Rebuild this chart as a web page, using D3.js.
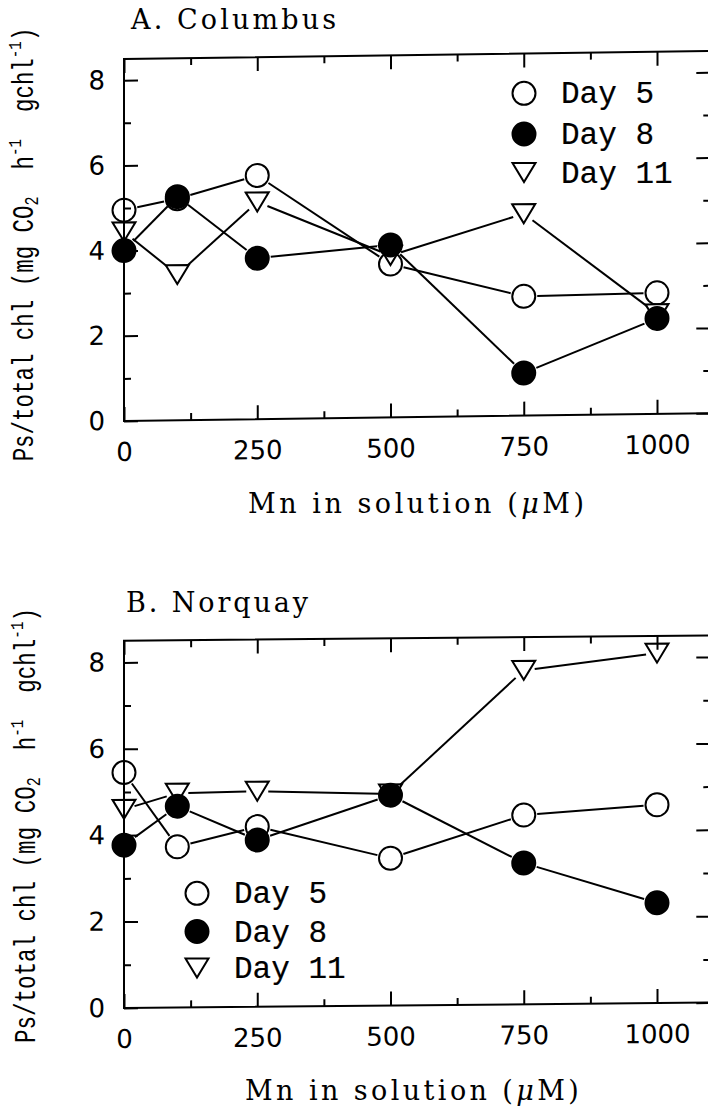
<!DOCTYPE html>
<html>
<head>
<meta charset="utf-8">
<script src="https://cdn.jsdelivr.net/npm/d3@7"></script>
<style>
  html, body { margin: 0; padding: 0; background: #fff; }
  svg { display: block; }
</style>
</head>
<body>
<svg id="chart" width="708" height="1113"></svg>
<script>
// Mn concentration in the nutrient solution (µM)
const manganese = [0, 100, 250, 500, 750, 1000];

// Ps / total chl, cv. Columbus
const columbusDay5  = [4.95, 5.2, 5.72, 3.6, 2.8, 2.84];
const columbusDay8  = [4.0, 5.25, 3.78, 4.05, 1.0, 2.24];
const columbusDay11 = [4.44, 3.42, 5.1, 3.8, 4.74, 2.35];

// Ps / total chl, cv. Norquay
const norquayDay5  = [5.45, 3.72, 4.17, 3.41, 4.38, 4.59];
const norquayDay8  = [3.77, 4.66, 3.86, 4.87, 3.27, 2.32];
const norquayDay11 = [4.6, 4.96, 4.99, 4.9, 7.73, 8.1];

const seriesNames = ["Day 5", "Day 8", "Day 11"];
const xMajorTicks = [0, 250, 500, 750, 1000];
const xMinorTicks = [125, 375, 625, 875];
const yMajorTicks = [0, 2, 4, 6, 8];
const yMinorTicks = [1, 3, 5, 7];

const svg = d3.select("#chart");

// marker styles: open circle, filled circle, open down-triangle
const markerKinds = ["open", "filled", "triangle"];
const R = 11.5;
const TRI = "M-11.5,-9.5L11.5,-9.5L0,9.5Z";

function drawMarker(sel, kind, cx, cy) {
  if (kind === "triangle") {
    sel.append("path").attr("d", TRI)
      .attr("transform", `translate(${cx},${cy})`)
      .attr("fill", "#fff").attr("stroke", "#000").attr("stroke-width", 2);
  } else {
    sel.append("circle").attr("cx", cx).attr("cy", cy).attr("r", R)
      .attr("fill", kind === "filled" ? "#000" : "#fff")
      .attr("stroke", "#000").attr("stroke-width", 2);
  }
}

function fitSpacing(textSel, target) {
  const nat = textSel.node().getComputedTextLength();
  const n = textSel.text().length;
  textSel.attr("letter-spacing", ((target - nat) / (n - 1)).toFixed(2));
}

const panels = [
  {
    title: "A. Columbus", series: [columbusDay5, columbusDay8, columbusDay11],
    bottom: 421, unit: 42.6, skew: -0.77,
    titleX: 131, titleY: 29, titleW: 205,
    xTitleX: 248, xTitleY: 513, xTitleW: 336,
    yLabelX: 33, yLabelCY: 244.5, yLabelLen: 434,
    legendX: 524, legendRows: [93.3, 134, 172.5]
  },
  {
    title: "B. Norquay", series: [norquayDay5, norquayDay8, norquayDay11],
    bottom: 1008, unit: 43.2, skew: -0.53,
    titleX: 126, titleY: 612, titleW: 182,
    xTitleX: 245, xTitleY: 1100, xTitleW: 334,
    yLabelX: 35, yLabelCY: 825.5, yLabelLen: 435,
    legendX: 197, legendRows: [893.3, 931.5, 968]
  }
];

function styleAxis(sel, fontSize) {
  sel.select(".domain").remove();
  sel.selectAll(".tick line").attr("stroke", "#000").attr("stroke-width", 2);
  sel.attr("font-family", "DejaVu Sans").attr("font-size", fontSize);
  sel.selectAll(".tick text").attr("fill", "#000");
}

function drawPanel(p) {
  const left = 124, xUnit = 0.533;
  const x = d3.scaleLinear().domain([0, 1100]).range([left, left + 1100 * xUnit]);
  const y = d3.scaleLinear().domain([0, 8.5]).range([p.bottom, p.bottom - 8.5 * p.unit]);
  const [x0, x1] = x.range();
  const [y0, y1] = y.range();

  const g = svg.append("g")
    .attr("transform", `translate(${left},${p.bottom}) skewY(${p.skew}) translate(${-left},${-p.bottom})`);

  // connecting lines (trimmed short of each marker)
  const lines = g.append("g").attr("stroke", "#000").attr("stroke-width", 2).attr("fill", "none");
  p.series.forEach((vals, si) => {
    const gap = markerKinds[si] === "triangle" ? 11 : R + 2;
    for (let i = 0; i < vals.length - 1; i++) {
      const ax = x(manganese[i]), ay = y(vals[i]);
      const bx = x(manganese[i + 1]), by = y(vals[i + 1]);
      const len = Math.hypot(bx - ax, by - ay);
      const ux = (bx - ax) / len, uy = (by - ay) / len;
      lines.append("line")
        .attr("x1", ax + ux * gap).attr("y1", ay + uy * gap)
        .attr("x2", bx - ux * gap).attr("y2", by - uy * gap);
    }
  });

  // markers: Day 5, then Day 11, then Day 8 on top
  const marks = g.append("g");
  [0, 2, 1].forEach(si => {
    p.series[si].forEach((v, i) => drawMarker(marks, markerKinds[si], x(manganese[i]), y(v)));
  });

  // frame
  g.append("rect").attr("x", x0).attr("y", y1).attr("width", x1 - x0).attr("height", y0 - y1)
    .attr("fill", "none").attr("stroke", "#000").attr("stroke-width", 2);

  // bottom axis with labels
  g.append("g").attr("transform", `translate(0,${y0})`)
    .call(d3.axisBottom(x).tickValues(xMajorTicks).tickSize(-14).tickPadding(21.5).tickFormat(d3.format("d")))
    .call(s => styleAxis(s, 26));
  g.append("g").attr("transform", `translate(0,${y0})`)
    .call(d3.axisBottom(x).tickValues(xMinorTicks).tickSize(-7).tickFormat(""))
    .call(s => styleAxis(s, 26));
  // top axis
  g.append("g").attr("transform", `translate(0,${y1})`)
    .call(d3.axisTop(x).tickValues(xMajorTicks).tickSize(-14).tickFormat(""))
    .call(s => styleAxis(s, 26));
  g.append("g").attr("transform", `translate(0,${y1})`)
    .call(d3.axisTop(x).tickValues(xMinorTicks).tickSize(-7).tickFormat(""))
    .call(s => styleAxis(s, 26));
  // left axis with labels
  g.append("g").attr("transform", `translate(${x0},0)`)
    .call(d3.axisLeft(y).tickValues(yMajorTicks).tickSize(-14).tickPadding(19).tickFormat(d3.format("d")))
    .call(s => styleAxis(s, 26));
  g.append("g").attr("transform", `translate(${x0},0)`)
    .call(d3.axisLeft(y).tickValues(yMinorTicks).tickSize(-7).tickFormat(""))
    .call(s => styleAxis(s, 26));
  // right axis
  g.append("g").attr("transform", `translate(${x1},0)`)
    .call(d3.axisRight(y).tickValues(yMajorTicks).tickSize(-14).tickFormat(""))
    .call(s => styleAxis(s, 26));
  g.append("g").attr("transform", `translate(${x1},0)`)
    .call(d3.axisRight(y).tickValues(yMinorTicks).tickSize(-7).tickFormat(""))
    .call(s => styleAxis(s, 26));

  // panel title
  const t = svg.append("text").attr("x", p.titleX).attr("y", p.titleY)
    .attr("font-family", "DejaVu Serif").attr("font-size", 27).attr("fill", "#000")
    .text(p.title);
  fitSpacing(t, p.titleW);

  // x-axis title
  const xt = svg.append("text").attr("x", p.xTitleX).attr("y", p.xTitleY)
    .attr("font-family", "DejaVu Serif").attr("font-size", 27).attr("fill", "#000");
  xt.append("tspan").text("Mn in solution (");
  xt.append("tspan").attr("font-style", "italic").text("\u03bc");
  xt.append("tspan").text("M)");
  fitSpacing(xt, p.xTitleW);

  // y-axis title
  const yl = svg.append("text")
    .attr("font-family", "Liberation Mono").attr("font-size", 30).attr("fill", "#000")
    .attr("text-anchor", "middle").attr("xml:space", "preserve").style("white-space", "pre");
  yl.append("tspan").text("Ps/total chl (mg CO");
  yl.append("tspan").attr("font-size", 20).attr("dy", 5).text("2");
  yl.append("tspan").attr("dy", -5).text("  h");
  yl.append("tspan").attr("font-size", 19).attr("dy", -12).text("-1");
  yl.append("tspan").attr("dy", 12).text("  gchl");
  yl.append("tspan").attr("font-size", 19).attr("dy", -12).text("-1");
  yl.append("tspan").attr("dy", 12).text(")");
  const w = yl.node().getComputedTextLength();
  yl.attr("transform", `translate(${p.yLabelX},${p.yLabelCY}) rotate(-90) scale(${(p.yLabelLen / w).toFixed(4)},1)`);

  // legend
  const lg = svg.append("g");
  seriesNames.forEach((name, si) => {
    const cy = p.legendRows[si];
    drawMarker(lg, markerKinds[si], p.legendX, cy);
    lg.append("text").attr("x", p.legendX + 37).attr("y", cy + 10)
      .attr("font-family", "Liberation Mono").attr("font-size", 31)
      .attr("fill", "#000").attr("stroke", "#000").attr("stroke-width", 0.2)
      .text(name);
  });
}

panels.forEach(drawPanel);
</script>
</body>
</html>
